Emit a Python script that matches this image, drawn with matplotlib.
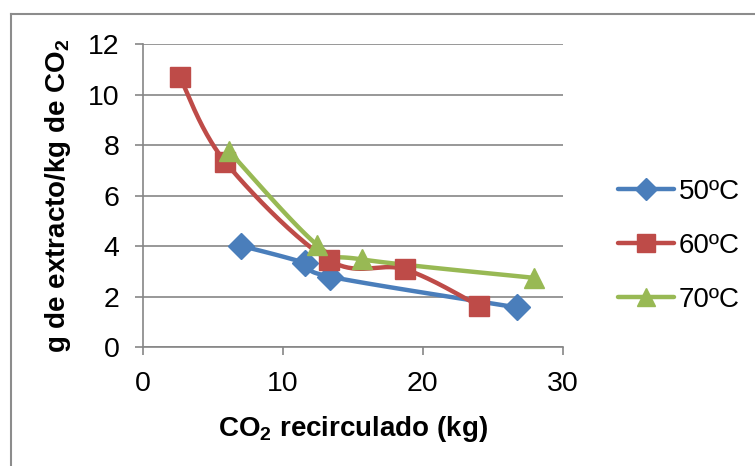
import numpy as np
import matplotlib
matplotlib.use("Agg")
import matplotlib.pyplot as plt
from matplotlib.lines import Line2D

plt.rcParams['font.family'] = ['Liberation Sans', 'DejaVu Sans']
plt.rcParams['mathtext.fontset'] = 'custom'
plt.rcParams['mathtext.rm'] = 'Liberation Sans'
plt.rcParams['mathtext.bf'] = 'Liberation Sans:bold'

# CO2 recirculado (kg) and g de extracto / kg de CO2 per temperature
x50 = [7.0, 11.6, 13.35, 26.7]
y50 = [4.02, 3.33, 2.80, 1.58]
x60 = [2.6, 5.85, 13.25, 18.7, 24.0]
y60 = [10.72, 7.35, 3.46, 3.09, 1.65]
x70 = [6.1, 12.45, 15.65, 27.95]
y70 = [7.78, 4.05, 3.48, 2.75]
labels = ['50ºC', '60ºC', '70ºC']
colors = ['#4A7EBB', '#BE4B48', '#98B954']
markers = ['D', 's', '^']
msizes = [13, 14, 14]

xticks = [0, 10, 20, 30]
yticks = [0, 2, 4, 6, 8, 10, 12]


def smooth(xs, ys, n=40):
    """Catmull-Rom style Bezier smoothing through every point."""
    p = np.column_stack([xs, ys]).astype(float)
    out = [p[0]]
    for i in range(len(p) - 1):
        p0 = p[i - 1] if i > 0 else p[i]
        p1 = p[i]
        p2 = p[i + 1]
        p3 = p[i + 2] if i + 2 < len(p) else p[i + 1]
        c1 = p1 + (p2 - p0) / 6.0
        c2 = p2 - (p3 - p1) / 6.0
        t = np.linspace(0, 1, n)[1:, None]
        seg = ((1 - t) ** 3 * p1 + 3 * (1 - t) ** 2 * t * c1
               + 3 * (1 - t) * t ** 2 * c2 + t ** 3 * p2)
        out.extend(seg)
    out = np.array(out)
    return out[:, 0], out[:, 1]


fig = plt.figure(figsize=(7.55, 4.66), dpi=100)
ax = fig.add_axes([0.1898, 0.2547, 0.5555, 0.6502])

grid_c = '#868686'
handles = []
for xs, ys, c, m, ms, lab in zip([x50, x60, x70], [y50, y60, y70],
                                 colors, markers, msizes, labels):
    sx, sy = smooth(xs, ys)
    ax.plot(sx, sy, color=c, lw=3.2, solid_capstyle='round', zorder=3)
    ax.plot(xs, ys, linestyle='none', marker=m, markersize=ms,
            color=c, markeredgecolor=c, zorder=4)
    handles.append(Line2D([], [], color=c, lw=3.2, marker=m,
                          markersize=ms * 0.9, markeredgecolor=c,
                          solid_capstyle='round', label=lab))

ax.set_xlim(0, 30)
ax.set_ylim(0, 12)
ax.set_xticks(xticks)
ax.set_yticks(yticks)
ax.tick_params(axis='both', labelsize=20.5, length=6, width=1.2,
               color=grid_c, direction='out', pad=11)
ax.yaxis.grid(True, color=grid_c, lw=1.2)
ax.set_axisbelow(True)
for s in ['top', 'right']:
    ax.spines[s].set_visible(False)
for s in ['left', 'bottom']:
    ax.spines[s].set_color(grid_c)
    ax.spines[s].set_linewidth(1.2)

ax.set_xlabel(r'CO$_\mathbf{2}$ recirculado (kg)', fontsize=20,
              fontweight='bold', labelpad=12)
ax.set_ylabel(r'g de extracto/kg de CO$_\mathbf{2}$', fontsize=20,
              fontweight='bold', labelpad=11)

fig.legend(handles=handles, loc='center left',
           bbox_to_anchor=(618 / 755, 1 - 246 / 466), frameon=False,
           fontsize=20, borderpad=0, borderaxespad=0,
           handlelength=2.0, handletextpad=0.18, labelspacing=1.0)

# chart-area border
fig.add_artist(Line2D([11 / 755, 1.0], [1 - 14 / 466, 1 - 14 / 466],
                      transform=fig.transFigure, color='#8C8C8C', lw=1.5))
fig.add_artist(Line2D([11 / 755, 11 / 755], [0.0, 1 - 14 / 466],
                      transform=fig.transFigure, color='#8C8C8C', lw=1.5))

fig.savefig('out.png', dpi=100)
